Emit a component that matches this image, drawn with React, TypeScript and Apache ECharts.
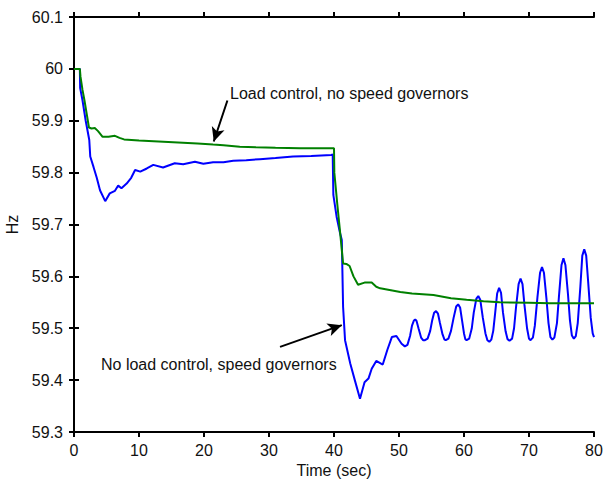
import React, { useEffect, useRef } from "react";
import * as echarts from "echarts";

const greenLoadControl: [number, number][] = [
  [0, 60], [0.9, 60], [1.0, 59.985], [1.3, 59.96], [1.6, 59.94], [2.0, 59.91], [2.3, 59.887],
  [2.7, 59.885], [3.2, 59.886], [3.7, 59.88], [4.4, 59.869], [5.3, 59.869], [6.3, 59.871],
  [7.0, 59.867], [7.7, 59.864], [10, 59.862], [13, 59.86], [16, 59.858], [19, 59.856],
  [21.4, 59.854], [23, 59.853], [25.5, 59.85], [28, 59.849], [31, 59.848], [34.8, 59.847],
  [40.0, 59.847], [40.05, 59.8], [40.5, 59.74], [40.9, 59.69], [41.4, 59.625], [41.9, 59.624],
  [42.4, 59.62], [43.0, 59.6], [43.7, 59.584], [44.7, 59.588], [45.8, 59.588], [46.5, 59.58],
  [47.1, 59.577], [50.2, 59.57], [52, 59.567], [55.3, 59.564], [58, 59.558], [60.4, 59.555],
  [63, 59.552], [65.5, 59.55], [70, 59.549], [73.2, 59.548], [80, 59.548],
];

const blueGovernors: [number, number][] = [
  [0, 60], [0.9, 60], [0.95, 59.963], [1.3, 59.94], [1.8, 59.9], [2.35, 59.863], [2.5, 59.831],
  [3.0, 59.811], [3.5, 59.79], [4.0, 59.766], [4.8, 59.745], [5.5, 59.76], [6.3, 59.765],
  [6.8, 59.775], [7.3, 59.77], [8.1, 59.779], [8.8, 59.79], [9.4, 59.805], [10.2, 59.802],
  [11.2, 59.808], [12.2, 59.815], [13.7, 59.81], [15.5, 59.818], [16.8, 59.816], [18.6, 59.821],
  [19.9, 59.817], [21.4, 59.82], [23, 59.82], [24.5, 59.823], [26.5, 59.824], [28.6, 59.826],
  [31, 59.828], [33.7, 59.831], [36.5, 59.832], [39.6, 59.834], [39.8, 59.835], [39.9, 59.757],
  [40.4, 59.715], [40.9, 59.685], [41.2, 59.67], [41.4, 59.541], [41.7, 59.477], [42.5, 59.432],
  [43.2, 59.4], [44.0, 59.364], [44.7, 59.396], [45.3, 59.403], [45.8, 59.422], [46.5, 59.437],
  [47.5, 59.43], [48.2, 59.458], [48.9, 59.483], [49.6, 59.485], [50.4, 59.47], [50.9, 59.465],
  [51.3, 59.468], [51.7, 59.485], [52.0, 59.505], [52.3, 59.515], [52.5, 59.517], [52.7, 59.514],
  [53.0, 59.5], [53.4, 59.482], [53.7, 59.477], [54.0, 59.477],
  [54.4, 59.48], [54.8, 59.495], [55.1, 59.515], [55.4, 59.53], [55.7, 59.533], [56.0, 59.528],
  [56.3, 59.51], [56.7, 59.488], [57.0, 59.478], [57.2, 59.477],
  [57.6, 59.48], [58.0, 59.495], [58.4, 59.52], [58.8, 59.542], [59.1, 59.546], [59.4, 59.54],
  [59.7, 59.515], [60.0, 59.49], [60.2, 59.479], [60.4, 59.477],
  [60.8, 59.48], [61.2, 59.5], [61.5, 59.53], [61.9, 59.557], [62.2, 59.562], [62.5, 59.555],
  [62.9, 59.52], [63.3, 59.49], [63.6, 59.477], [63.9, 59.474],
  [64.2, 59.478], [64.5, 59.495], [64.8, 59.53], [65.1, 59.567], [65.4, 59.578], [65.7, 59.568],
  [66.0, 59.53], [66.4, 59.494], [66.7, 59.479], [67.0, 59.476],
  [67.4, 59.48], [67.7, 59.5], [68.0, 59.54], [68.4, 59.585], [68.7, 59.596], [69.0, 59.585],
  [69.3, 59.545], [69.7, 59.5], [70.0, 59.48], [70.2, 59.477],
  [70.6, 59.482], [70.9, 59.505], [71.3, 59.56], [71.7, 59.607], [72.0, 59.618], [72.3, 59.607],
  [72.7, 59.555], [73.0, 59.51], [73.3, 59.483], [73.6, 59.478],
  [73.9, 59.482], [74.3, 59.51], [74.6, 59.56], [75.0, 59.622], [75.3, 59.635], [75.6, 59.622],
  [76.0, 59.565], [76.3, 59.515], [76.6, 59.486], [76.9, 59.48],
  [77.2, 59.485], [77.5, 59.51], [77.9, 59.58], [78.2, 59.64], [78.5, 59.652], [78.8, 59.64],
  [79.1, 59.59], [79.5, 59.52], [79.8, 59.49], [80, 59.483],
];

const upperArrow: [number, number][] = [[23.6, 59.939], [21.5, 59.86]];
const lowerArrow: [number, number][] = [[31.7, 59.464], [41.2, 59.506]];

const labelUpper = "Load control, no speed governors";
const labelLower = "No load control, speed governors";

const FONT = "'Liberation Sans', Arial, Helvetica, sans-serif";

export default function App() {
  const ref = useRef<HTMLDivElement>(null);
  useEffect(() => {
    if (!ref.current) return;
    const chart = echarts.init(ref.current, undefined, { renderer: "svg" });
    const axisLine = { show: true, lineStyle: { color: "#000", width: 2 } };
    const axisTick = { show: true, inside: false, length: 5, lineStyle: { color: "#000", width: 2 } };
    chart.setOption({
      animation: false,
      backgroundColor: "#fff",
      grid: { left: 74, right: 11, top: 17, bottom: 49, containLabel: false, outerBoundsMode: "none" },
      xAxis: [
        {
          type: "value", min: 0, max: 80, interval: 10, position: "bottom",
          axisLine, axisTick, splitLine: { show: false },
          axisLabel: { color: "#111", fontSize: 16, fontFamily: FONT, margin: 10 },
          name: "Time (sec)", nameLocation: "middle", nameGap: 30,
          nameTextStyle: { color: "#111", fontSize: 16, fontFamily: FONT },
        },
        {
          type: "value", min: 0, max: 80, interval: 10, position: "top",
          axisLine, axisTick, splitLine: { show: false }, axisLabel: { show: false },
        },
      ],
      yAxis: [
        {
          type: "value", min: 59.3, max: 60.1, interval: 0.1, position: "left",
          axisLine, axisTick, splitLine: { show: false },
          axisLabel: {
            color: "#111", fontSize: 16, fontFamily: FONT, margin: 11,
            formatter: (v: number) => String(+v.toFixed(1)),
          },
          name: "Hz", nameLocation: "middle", nameGap: 50, nameRotate: 90,
          nameTextStyle: { color: "#111", fontSize: 16, fontFamily: FONT },
        },
        {
          type: "value", min: 59.3, max: 60.1, interval: 0.1, position: "right",
          axisLine, axisTick, splitLine: { show: false }, axisLabel: { show: false },
        },
      ],
      series: [
        {
          type: "line", name: "Load control", data: greenLoadControl, showSymbol: false,
          lineStyle: { color: "#008000", width: 2 }, z: 3,
          markLine: {
            silent: true, symbol: ["none", "arrow"], symbolSize: [10, 14],
            label: { show: false },
            lineStyle: { color: "#000", width: 2, type: "solid" },
            data: [
              [{ coord: upperArrow[0] }, { coord: upperArrow[1] }],
              [{ coord: lowerArrow[0] }, { coord: lowerArrow[1] }],
            ],
          },
        },
        {
          type: "line", name: "No load control", data: blueGovernors, showSymbol: false,
          lineStyle: { color: "#0000ff", width: 2 }, z: 2,
        },
      ],
      graphic: [
        {
          type: "text", left: 230, top: 85,
          style: { text: labelUpper, fill: "#111", fontSize: 16, fontFamily: FONT },
        },
        {
          type: "text", left: 101, top: 356,
          style: { text: labelLower, fill: "#111", fontSize: 16, fontFamily: FONT },
        },
      ],
    });
    return () => chart.dispose();
  }, []);
  return <div ref={ref} style={{ width: 605, height: 481, position: "absolute", left: 0, top: 0 }} />;
}
